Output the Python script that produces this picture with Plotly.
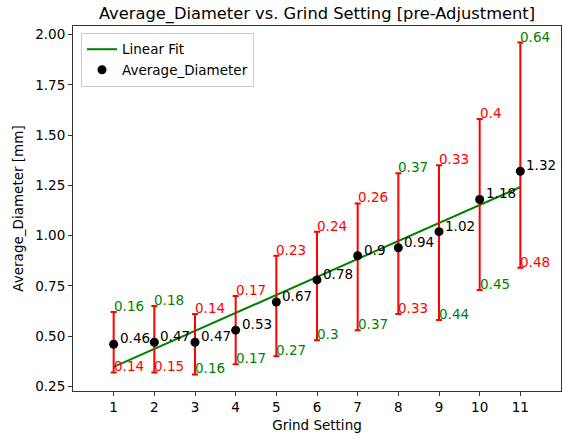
import numpy as np
import plotly.graph_objects as go

grind = [1, 2, 3, 4, 5, 6, 7, 8, 9, 10, 11]
avg_diam = [0.46, 0.47, 0.47, 0.53, 0.67, 0.78, 0.90, 0.94, 1.02, 1.18, 1.32]
err_plus = [0.16, 0.18, 0.14, 0.17, 0.23, 0.24, 0.26, 0.37, 0.33, 0.40, 0.64]
err_minus = [0.14, 0.15, 0.16, 0.17, 0.27, 0.30, 0.37, 0.33, 0.44, 0.45, 0.48]

slope, intercept = np.polyfit(grind, avg_diam, 1)
fit_y = [slope * g + intercept for g in grind]

FONT = "DejaVu Sans"
GREEN = "#008000"
RED = "#ff0000"

fig = go.Figure()
fig.add_trace(go.Scatter(
    x=grind, y=fit_y, mode="lines", name="Linear Fit",
    line=dict(color=GREEN, width=2),
))
fig.add_trace(go.Scatter(
    x=grind, y=avg_diam, mode="markers", name="Average_Diameter",
    marker=dict(color="black", size=9),
    error_y=dict(type="data", symmetric=False, array=err_plus, arrayminus=err_minus,
                 color=RED, thickness=2, width=3),
))

annotations = []
for g, m, p, n in zip(grind, avg_diam, err_plus, err_minus):
    annotations.append(dict(x=g, y=m, xref="x", yref="y", text=f"{m:g}", showarrow=False,
                            xanchor="left", yanchor="bottom", xshift=4, yshift=-4,
                            font=dict(family=FONT, size=13.5, color="black")))
    top_color = GREEN if p > n else RED
    bot_color = GREEN if n >= p else RED
    annotations.append(dict(x=g, y=m + p, xref="x", yref="y", text=f"{p:g}", showarrow=False,
                            xanchor="left", yanchor="bottom", xshift=-2, yshift=-4,
                            font=dict(family=FONT, size=13.5, color=top_color)))
    annotations.append(dict(x=g, y=m - n, xref="x", yref="y", text=f"{n:g}", showarrow=False,
                            xanchor="left", yanchor="bottom", xshift=-2, yshift=-4,
                            font=dict(family=FONT, size=13.5, color=bot_color)))

axis_common = dict(showline=True, linecolor="#333", linewidth=1, mirror=True,
                   showgrid=False, zeroline=False, ticks="outside", ticklen=4,
                   tickcolor="#333", tickfont=dict(family=FONT, size=13.5, color="black"))

fig.update_layout(
    width=562, height=439,
    margin=dict(l=73, r=1, t=26, b=48),
    paper_bgcolor="white", plot_bgcolor="white",
    title=dict(text="Average_Diameter vs. Grind Setting [pre-Adjustment]",
               x=(73 + 561) / 2 / 562, xanchor="center", y=0.97, yanchor="middle",
               font=dict(family=FONT, size=16.3, color="black")),
    xaxis=dict(range=[0, 12], tickmode="array", tickvals=grind,
               title=dict(text="Grind Setting", font=dict(family=FONT, size=13.5, color="black"), standoff=6),
               **axis_common),
    yaxis=dict(range=[0.2275, 2.0425], tickmode="array",
               tickvals=[0.25, 0.5, 0.75, 1.0, 1.25, 1.5, 1.75, 2.0],
               ticktext=["0.25", "0.50", "0.75", "1.00", "1.25", "1.50", "1.75", "2.00"],
               title=dict(text="Average_Diameter [mm]", font=dict(family=FONT, size=13.5, color="black"), standoff=8),
               **axis_common),
    legend=dict(x=0.0164, y=0.981, xanchor="left", yanchor="top",
                bgcolor="rgba(255,255,255,0.8)", bordercolor="#cccccc", borderwidth=1,
                font=dict(family=FONT, size=13.5, color="black")),
    annotations=annotations,
    showlegend=True,
)

fig.write_html("out.html", config={"displayModeBar": False},
               post_script="document.body.style.margin='0px';document.body.style.overflow='hidden';")
